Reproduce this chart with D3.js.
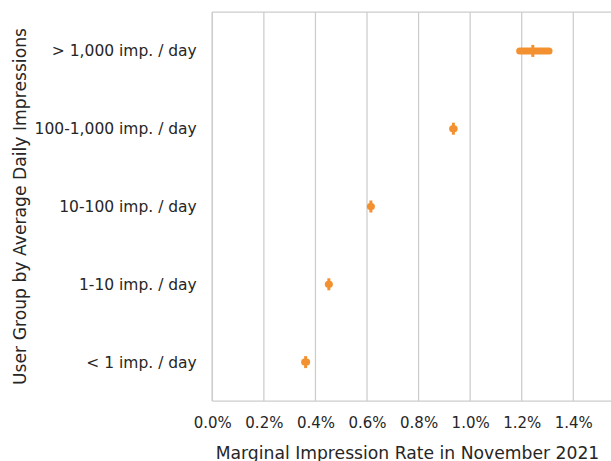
<!DOCTYPE html>
<html>
<head>
<meta charset="utf-8">
<script src="https://cdn.jsdelivr.net/npm/d3@7"></script>
<style>
  html, body { margin: 0; padding: 0; background: #fff; }
  svg { display: block; font-family: "DejaVu Sans", sans-serif; }
</style>
</head>
<body>
<svg id="chart" width="611" height="461"></svg>
<script>
// ---- data ----
const categories = ["> 1,000 imp. / day", "100-1,000 imp. / day", "10-100 imp. / day", "1-10 imp. / day", "< 1 imp. / day"];
const means = [0.01243, 0.00935, 0.00615, 0.00452, 0.00362];
const lower = [0.01192, 0.00932, 0.00613, 0.00450, 0.00358];
const upper = [0.01306, 0.00938, 0.00617, 0.00454, 0.00366];
const xTicks = [0, 0.002, 0.004, 0.006, 0.008, 0.010, 0.012, 0.014];
const xLabel = "Marginal Impression Rate in November 2021";
const yLabel = "User Group by Average Daily Impressions";

// ---- layout ----
const svg = d3.select("#chart");
const plotLeft = 212.3, plotTop = 12, plotBottom = 401;
const pxPer = 51.57 / 0.002;
const xMax = 0.0156;
const x = d3.scaleLinear().domain([0, xMax]).range([plotLeft, plotLeft + xMax * pxPer]);
const y = d3.scaleBand().domain(categories).range([plotTop, plotBottom]).padding(0);
const color = "#f39130";
const gridColor = "#cccccc";
const textColor = "#262626";

// grid lines
svg.append("g").selectAll("line").data(xTicks).join("line")
  .attr("x1", d => x(d)).attr("x2", d => x(d))
  .attr("y1", plotTop).attr("y2", plotBottom)
  .attr("stroke", gridColor).attr("stroke-width", 1.25);

// spines
svg.append("line").attr("x1", plotLeft).attr("x2", x.range()[1]).attr("y1", plotTop).attr("y2", plotTop)
  .attr("stroke", gridColor).attr("stroke-width", 1.25);
svg.append("line").attr("x1", plotLeft).attr("x2", x.range()[1]).attr("y1", plotBottom).attr("y2", plotBottom)
  .attr("stroke", gridColor).attr("stroke-width", 1.25);
svg.append("line").attr("x1", plotLeft).attr("x2", plotLeft).attr("y1", plotTop).attr("y2", plotBottom)
  .attr("stroke", gridColor).attr("stroke-width", 1.25);

// x axis tick labels
const xAxis = d3.axisBottom(x).tickValues(xTicks).tickFormat(d3.format(".1%")).tickSize(0).tickPadding(0);
const gx = svg.append("g").attr("transform", `translate(0,${plotBottom})`).call(xAxis);
gx.select(".domain").remove();
gx.selectAll("text").attr("y", 0).attr("dy", "27px")
  .attr("font-size", "15px").attr("font-family", "DejaVu Sans").attr("fill", textColor);

// y axis tick labels
const yAxis = d3.axisLeft(y).tickSize(0).tickPadding(15.5);
const gy = svg.append("g").attr("transform", `translate(${plotLeft},0.6)`).call(yAxis);
gy.select(".domain").remove();
gy.selectAll("text").attr("font-size", "15.5px").attr("font-family", "DejaVu Sans").attr("fill", textColor);

// axis titles
svg.append("text").attr("x", 407.5).attr("y", 459).attr("text-anchor", "middle")
  .attr("font-size", "17.2px").attr("fill", textColor).text(xLabel);
svg.append("text").attr("transform", "translate(26,206.5) rotate(-90)").attr("text-anchor", "middle")
  .attr("font-size", "17.2px").attr("fill", textColor).text(yLabel);

// error bars
const rows = categories.map((c, i) => ({ c, m: means[i], lo: lower[i], hi: upper[i] }));
svg.append("g").selectAll("line").data(rows).join("line")
  .attr("x1", d => x(d.lo)).attr("x2", d => x(d.hi))
  .attr("y1", d => y(d.c) + y.bandwidth() / 2).attr("y2", d => y(d.c) + y.bandwidth() / 2)
  .attr("stroke", color).attr("stroke-width", 7).attr("stroke-linecap", "round");

// point markers (vertical ticks)
svg.append("g").selectAll("line").data(rows).join("line")
  .attr("x1", d => x(d.m)).attr("x2", d => x(d.m))
  .attr("y1", d => y(d.c) + y.bandwidth() / 2 - 6).attr("y2", d => y(d.c) + y.bandwidth() / 2 + 6)
  .attr("stroke", color).attr("stroke-width", 3);
</script>
</body>
</html>
